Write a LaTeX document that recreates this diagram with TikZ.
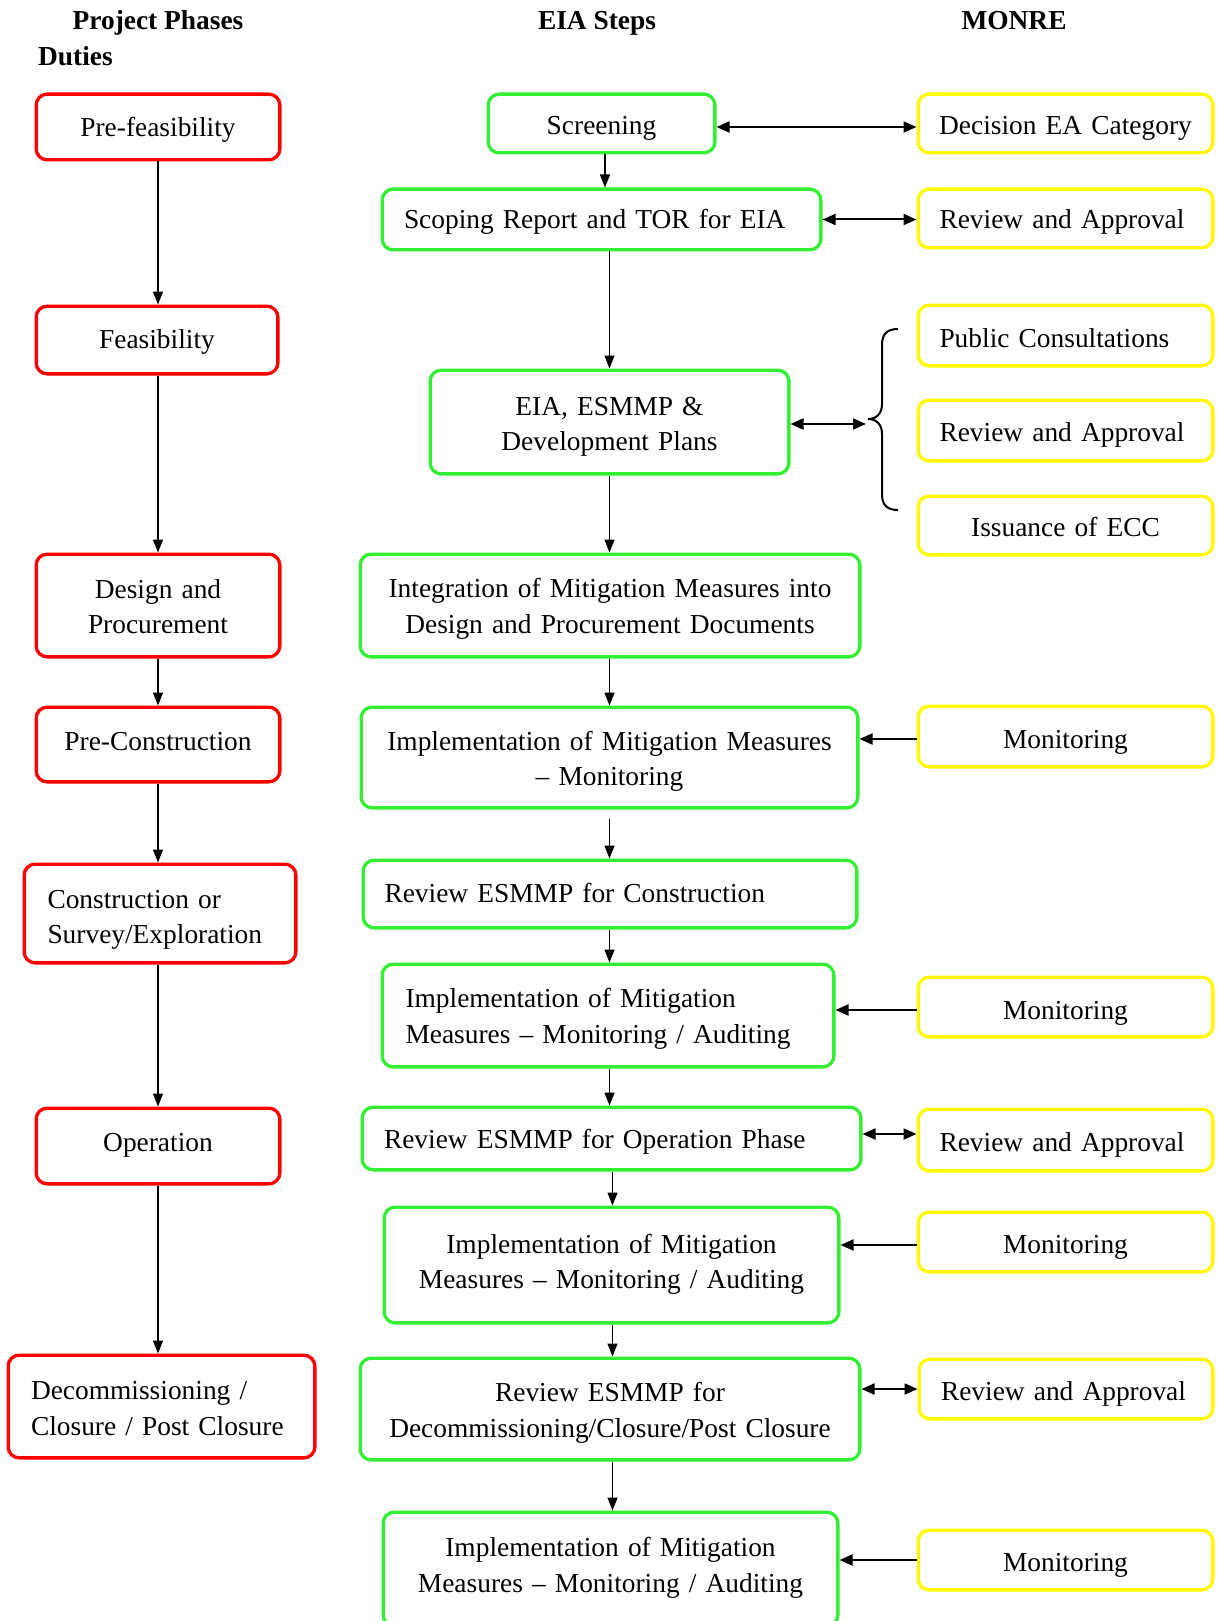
\documentclass[tikz,border=0pt]{standalone}
\usepackage{fontspec}
\setmainfont{Liberation Serif}
\usetikzlibrary{arrows.meta}
\definecolor{phasered}{RGB}{255,0,0}
\definecolor{stepgreen}{RGB}{51,238,51}
\definecolor{monreyellow}{RGB}{255,250,0}
\begin{document}
\begin{tikzpicture}[x=1pt,y=-1pt,
  font=\fontsize{27.4}{35.5}\selectfont,
  box/.style={draw, line width=3.3pt, rounded corners=11pt, fill=white, inner ysep=0pt},
  phase/.style={box, draw=phasered},
  stepbox/.style={box, draw=stepgreen},
  monre/.style={box, draw=monreyellow},
  ctr/.style={align=center, inner xsep=8.35pt},
  lft/.style={align=left, inner xsep=#1},
  % fixed first-line height and last-line depth, so the baseline sits where wanted
  ts/.style={execute at begin node={\rule{0pt}{#1}}, execute at end node={\rule[-8pt]{0pt}{8pt}}},
  head/.style={font=\fontsize{27.4}{33}\selectfont\bfseries, inner sep=0pt},
  flow/.style={-{Triangle[length=13pt,width=10pt]}, line width=1.4pt},
  feed/.style={-{Triangle[length=13pt,width=11pt]}, line width=2pt},
  link/.style={{Triangle[length=13pt,width=11pt]}-{Triangle[length=13pt,width=11pt]}, line width=2pt}
]
\fill[white] (0,0) rectangle (1217,1621);
\useasboundingbox (0,0) rectangle (1217,1621);
\clip (0,0) rectangle (1217,1621);

% column headings
\node[head] (hphase) at (158,23) {Project Phases};
\node[head, anchor=west] (hduty) at (38,56) {Duties};
\node[head] (hsteps) at (597,23) {EIA Steps};
\node[head] (hmonre) at (1014,21) {MONRE};

% project phases
\node[phase, ctr, ts=26.7pt, text width=227pt, minimum height=65.7pt] (pre) at (158,127) {Pre-feasibility};
\node[phase, ctr, ts=24.7pt, text width=225pt, minimum height=67.7pt] (feas) at (157,340) {Feasibility};
\node[phase, ctr, ts=28.7pt, text width=227pt, minimum height=102.7pt] (design) at (158,605.5) {Design and\\Procurement};
\node[phase, ctr, ts=20.7pt, text width=227pt, minimum height=74.7pt] (precon) at (158,744.5) {Pre-Construction};
\node[phase, lft=23.35pt, ts=32.7pt, text width=225pt, minimum height=98.7pt] (constr) at (160,913.5) {Construction or\\Survey/Exploration};
\node[phase, ctr, ts=18.7pt, text width=227pt, minimum height=75.7pt] (oper) at (158,1146) {Operation};
\node[phase, lft=22.85pt, ts=29.7pt, text width=261pt, minimum height=102.7pt] (decom) at (161.5,1406.5) {Decommissioning /\\Closure / Post Closure};

% EIA steps
\node[stepbox, ctr, ts=30.7pt, text width=210pt, minimum height=58.7pt] (scr) at (601.5,123.5) {Screening};
\node[stepbox, lft=21.85pt, ts=26.7pt, text width=395pt, minimum height=60.7pt] (scope) at (601.5,219.5) {Scoping Report and TOR for EIA};
\node[stepbox, ctr, ts=29.7pt, text width=342pt, minimum height=103.7pt] (eia) at (609.5,422) {EIA, ESMMP \&\\Development Plans};
\node[stepbox, ctr, ts=27.7pt, text width=483pt, minimum height=102.7pt] (integ) at (610,605.5) {Integration of Mitigation Measures into\\Design and Procurement Documents};
\node[stepbox, ctr, ts=28.7pt, text width=480pt, minimum height=100.7pt] (impl1) at (609.5,757.5) {Implementation of Mitigation Measures\\– Monitoring};
\node[stepbox, lft=21.35pt, ts=24.7pt, text width=451pt, minimum height=67.7pt] (revc) at (610,894) {Review ESMMP for Construction};
\node[stepbox, lft=23.35pt, ts=27.7pt, text width=405pt, minimum height=102.7pt] (impl2) at (608,1015.5) {Implementation of Mitigation\\Measures – Monitoring / Auditing};
\node[stepbox, lft=21.85pt, ts=28.7pt, text width=455pt, minimum height=62.7pt] (revo) at (611.5,1138.5) {Review ESMMP for Operation Phase};
\node[stepbox, ctr, ts=19.7pt, text width=438pt, minimum height=115.7pt] (impl3) at (611.5,1265) {Implementation of Mitigation\\Measures – Monitoring / Auditing};
\node[stepbox, ctr, ts=28.7pt, text width=483pt, minimum height=101.7pt] (revd) at (610,1409) {Review ESMMP for\\Decommissioning/Closure/Post Closure};
\node[stepbox, ctr, ts=18.7pt, text width=438pt, minimum height=113.7pt] (impl4) at (610.5,1569) {Implementation of Mitigation\\Measures – Monitoring / Auditing};

% MONRE duties
\node[monre, ctr, ts=30.7pt, text width=278pt, minimum height=58.7pt] (dec) at (1065.5,123.5) {Decision EA Category};
\node[monre, lft=21.35pt, ts=28.7pt, text width=252pt, minimum height=58.7pt] (ra1) at (1065.5,218.5) {Review and Approval};
\node[monre, lft=21.35pt, ts=32.7pt, text width=252pt, minimum height=60.7pt] (pc) at (1065.5,335.5) {Public Consultations};
\node[monre, lft=21.35pt, ts=30.7pt, text width=252pt, minimum height=60.7pt] (ra2) at (1065.5,430.5) {Review and Approval};
\node[monre, ctr, ts=30.7pt, text width=278pt, minimum height=58.7pt] (ecc) at (1065.5,525.5) {Issuance of ECC};
\node[monre, ctr, ts=32.7pt, text width=278pt, minimum height=60.7pt] (mon1) at (1065.5,736.5) {Monitoring};
\node[monre, ctr, ts=32.7pt, text width=278pt, minimum height=59.7pt] (mon2) at (1065.5,1007) {Monitoring};
\node[monre, lft=21.35pt, ts=30.7pt, text width=252pt, minimum height=61.7pt] (ra3) at (1065.5,1140) {Review and Approval};
\node[monre, ctr, ts=30.7pt, text width=278pt, minimum height=59.7pt] (mon3) at (1065.5,1242) {Monitoring};
\node[monre, lft=21.85pt, ts=30.7pt, text width=250pt, minimum height=59.7pt] (ra4) at (1066,1389) {Review and Approval};
\node[monre, ctr, ts=30.7pt, text width=278pt, minimum height=59.7pt] (mon4) at (1065.5,1560) {Monitoring};

% phase sequence
\draw[flow] (pre.south) -- (pre.south |- feas.north);
\draw[flow] (pre.south |- feas.south) -- (pre.south |- design.north);
\draw[flow] (design.south) -- (design.south |- precon.north);
\draw[flow] (precon.south) -- (precon.south |- constr.north);
\draw[flow] (precon.south |- constr.south) -- (precon.south |- oper.north);
\draw[flow] (oper.south) -- (oper.south |- decom.north);

% EIA step sequence
\draw[flow] ([xshift=3.5pt]scr.south) -- ([xshift=3.5pt]scr.south |- scope.north);
\draw[flow] (eia.north |- scope.south) -- (eia.north);
\draw[flow] (eia.south) -- (eia.south |- integ.north);
\draw[flow] (eia.south |- integ.south) -- (eia.south |- impl1.north);
\draw[flow] ([yshift=-9pt]impl1.south) -- (impl1.south |- revc.north);
\draw[flow] (impl1.south |- revc.south) -- (impl1.south |- impl2.north);
\draw[flow] (impl1.south |- impl2.south) -- (impl1.south |- revo.north);
\draw[flow] ([xshift=1pt]revo.south) -- ([xshift=1pt]revo.south |- impl3.north);
\draw[flow] ([xshift=1pt]revo.south |- impl3.south) -- ([xshift=1pt]revo.south |- revd.north);
\draw[flow] ([xshift=1pt]revo.south |- revd.south) -- ([xshift=1pt]revo.south |- impl4.north);

% brace grouping the approval duties
\coordinate (bt) at (866,424);
\draw[line width=2pt] (898,329) .. controls (886,329) and (882,335) .. (882,345)
  -- (882,404) .. controls (882,413) and (877,419) .. (868,419)
  .. controls (877,419) and (882,425) .. (882,434)
  -- (882,494) .. controls (882,504) and (886,510) .. (898,510);

% links between EIA steps and MONRE
\draw[link] ([yshift=-3.5pt]scr.east) -- ([yshift=-3.5pt]scr.east -| dec.west);
\draw[link] (scope.east) -- (scope.east -| ra1.west);
\draw[link] (eia.east |- bt) -- (bt);
\draw[feed] ([yshift=-2.5pt]mon1.west) -- ([yshift=-2.5pt]mon1.west -| impl1.east);
\draw[feed] ([yshift=-3pt]mon2.west) -- ([yshift=-3pt]mon2.west -| impl2.east);
\draw[link] ([yshift=4.5pt]revo.east) -- ([yshift=4.5pt]revo.east -| ra3.west);
\draw[feed] ([yshift=-3pt]mon3.west) -- ([yshift=-3pt]mon3.west -| impl3.east);
\draw[link] (ra4.west -| revd.east) -- (ra4.west);
\draw[feed] (mon4.west) -- (mon4.west -| impl4.east);
\end{tikzpicture}
\end{document}
